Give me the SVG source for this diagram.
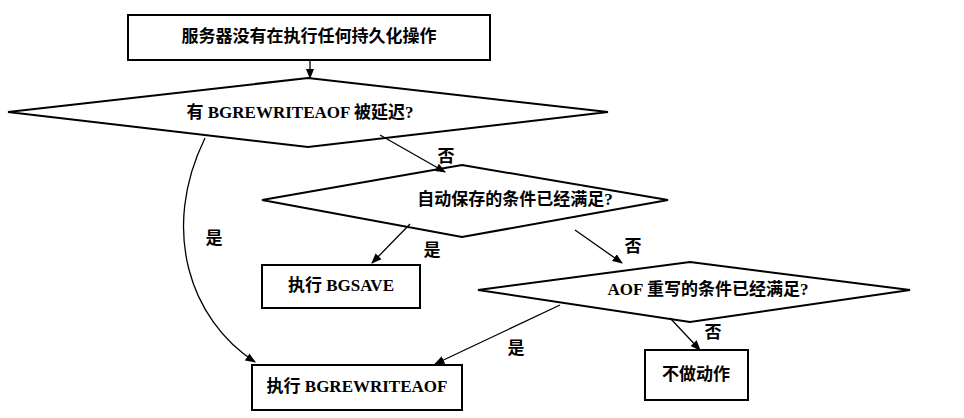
<svg xmlns="http://www.w3.org/2000/svg" width="964" height="418" viewBox="0 0 964 418">
<defs>
<marker id="a" viewBox="0 0 10 10" refX="9" refY="5" markerWidth="8" markerHeight="8" orient="auto"><path d="M0,1 L10,5 L0,9 z" fill="#000"/></marker>
<style>
.s{fill:#fff;stroke:#000;stroke-width:2}
.t{font-family:"Liberation Serif","Noto Sans CJK SC",serif;font-size:17px;font-weight:bold;text-anchor:middle;dominant-baseline:middle}
.c{fill:none;stroke:#000;stroke-width:1.3;marker-end:url(#a)}
</style>
</defs>
<rect width="964" height="418" fill="#fff"/>
<g id="start"><rect class="s" x="128" y="15" width="362" height="45"/><text class="t" x="309" y="38">服务器没有在执行任何持久化操作</text></g>
<g id="d1"><polygon class="s" points="308,78 608,112 308,147 8,112"/><text class="t" x="300" y="114">有 BGREWRITEAOF 被延迟?</text></g>
<g id="d2"><polygon class="s" points="462,165 668,200 462,237 262,200"/><text class="t" x="515" y="201">自动保存的条件已经满足?</text></g>
<g id="bgsave"><rect class="s" x="262" y="265" width="158" height="43"/><text class="t" x="341" y="287">执行 BGSAVE</text></g>
<g id="d3"><polygon class="s" points="690,262 910,290 690,322 478,290"/><text class="t" x="708" y="291">AOF 重写的条件已经满足?</text></g>
<g id="noop"><rect class="s" x="645" y="350" width="103" height="50"/><text class="t" x="696" y="376">不做动作</text></g>
<g id="bgrw"><rect class="s" x="252" y="365" width="210" height="45"/><text class="t" x="357" y="388">执行 BGREWRITEAOF</text></g>
<g id="connectors">
<path class="c" d="M310,60 L310,78"/>
<path class="c" d="M380,135 L445,172"/>
<path class="c" d="M410,224 L372,263"/>
<path class="c" d="M575,230 L622,263"/>
<path class="c" d="M560,305 L435,364"/>
<path class="c" d="M670,318 L700,350"/>
<path class="c" d="M205,138 C160,230 190,320 255,362"/>
<text class="t" x="446" y="158">否</text>
<text class="t" x="432" y="252">是</text>
<text class="t" x="633" y="248">否</text>
<text class="t" x="516" y="350">是</text>
<text class="t" x="713" y="334">否</text>
<text class="t" x="214" y="240">是</text>
</g>
</svg>
